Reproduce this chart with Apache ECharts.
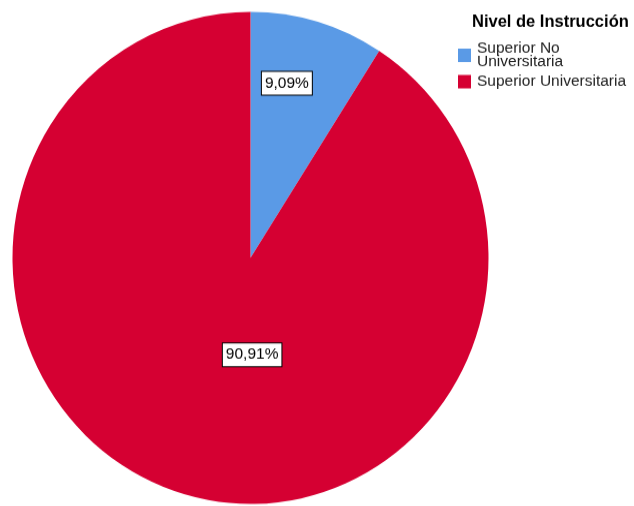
<!DOCTYPE html>
<html>
<head>
<meta charset="utf-8">
<script src="https://cdn.jsdelivr.net/npm/echarts@6/dist/echarts.min.js"></script>
<style>
  html, body { margin: 0; padding: 0; background: #ffffff; width: 634px; height: 506px; overflow: hidden; }
  /* the pie is drawn slightly taller than wide, so the canvas is stretched vertically */
  #chart { width: 634px; height: 490px; transform: scaleY(1.0336); transform-origin: 0 0; }
</style>
</head>
<body>
<div id="chart"></div>
<script>
// Nivel de Instrucción — share of respondents by education level
const legendTitle = 'Nivel de Instrucción';
const categories = ['Superior No Universitaria', 'Superior Universitaria'];
const percentages = [9.09, 90.91];
const sliceColors = ['#5a9ae6', '#d50032'];

const fmtPct = v => v.toFixed(2).replace('.', ',') + '%';
const font = 'Liberation Sans, Arial, sans-serif';

const chart = echarts.init(document.getElementById('chart'), null, { renderer: 'canvas' });

chart.setOption({
  backgroundColor: '#ffffff',
  animation: false,
  title: {
    text: legendTitle,
    left: 472,
    top: 13,
    padding: 0,
    textStyle: {
      fontFamily: font,
      fontSize: 16.5,
      fontWeight: 'bold',
      color: '#000000'
    }
  },
  legend: {
    orient: 'vertical',
    left: 458,
    top: 39,
    padding: 0,
    itemWidth: 13,
    itemHeight: 13,
    itemGap: 3,
    icon: 'rect',
    data: categories,
    formatter: name => name === categories[0] ? 'Superior No\nUniversitaria' : name,
    textStyle: {
      fontFamily: font,
      fontSize: 15.5,
      lineHeight: 13,
      color: '#222222',
      padding: [0, 0, 0, 1]
    }
  },
  series: [{
    type: 'pie',
    center: [250.5, 249.6],
    radius: 238,
    startAngle: 90,
    clockwise: true,
    avoidLabelOverlap: false,
    data: categories.map((name, i) => ({
      name: name,
      value: percentages[i],
      itemStyle: { color: sliceColors[i] }
    })),
    itemStyle: { borderWidth: 0 },
    emphasis: { disabled: true },
    label: {
      show: true,
      position: 'inside',
      formatter: p => fmtPct(p.value),
      fontFamily: font,
      fontSize: 15.5,
      color: '#000000',
      backgroundColor: '#ffffff',
      borderColor: '#000000',
      borderWidth: 1,
      padding: [3, 3, 3, 3]
    },
    labelLine: { show: false },
    // nudge the percentage boxes away from the default mid-radius spot
    labelLayout: p => p.dataIndex === 0 ? { dx: 2, dy: -52 } : { dx: 36, dy: -23.5 }
  }]
});
</script>
</body>
</html>
